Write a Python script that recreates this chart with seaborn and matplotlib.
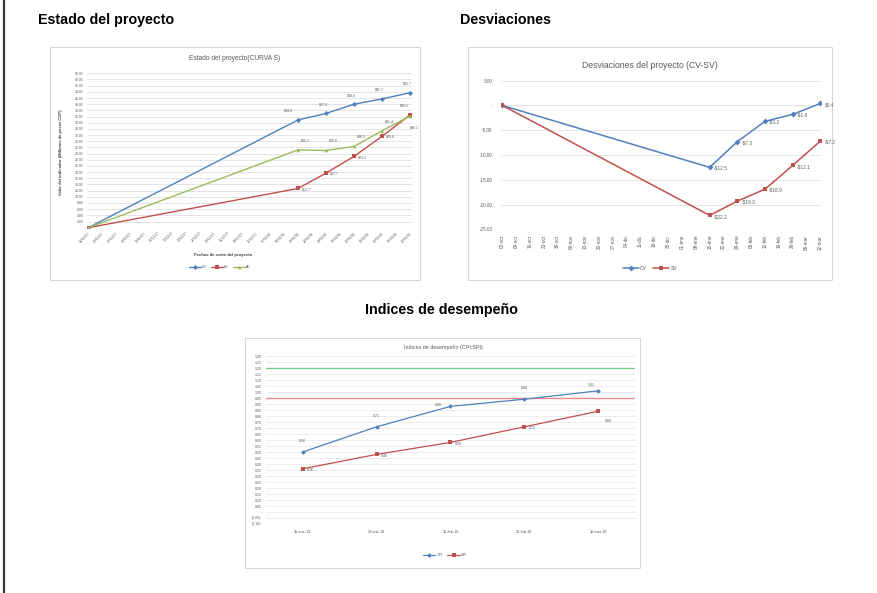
import matplotlib
matplotlib.use("Agg")
import matplotlib.pyplot as plt
from matplotlib.patches import Rectangle
from matplotlib.lines import Line2D
from matplotlib.ticker import FuncFormatter
import numpy as np
import seaborn as sns

# ---------------------------------------------------------------- data
# weekly cut-off dates on the time axis (deviation chart / S-curve chart)
fechas = ["02-oct", "09-oct", "16-oct", "23-oct", "30-oct", "06-nov", "13-nov",
          "20-nov", "27-nov", "04-dic", "11-dic", "18-dic", "25-dic", "01-ene",
          "08-ene", "15-ene", "22-ene", "29-ene", "05-feb", "12-feb", "19-feb",
          "26-feb", "05-mar", "12-mar"]
fechas_curva = ["02/10/17", "09/10/17", "16/10/17", "23/10/17", "30/10/17",
                "06/11/17", "13/11/17", "20/11/17", "27/11/17", "04/12/17",
                "11/12/17", "18/12/17", "25/12/17", "01/01/18", "08/01/18",
                "15/01/18", "22/01/18", "29/01/18", "05/02/18", "12/02/18",
                "19/02/18", "26/02/18", "05/03/18", "12/03/18"]

# dates on which the project was measured
cortes = ["02-oct", "15-ene", "29-ene", "12-feb", "26-feb", "12-mar"]

# S-curve (millions of COP)
PV = [0.0, 34.9, 37.0, 40.0, 41.7, 43.7]
EV = [0.0, 12.7, 17.7, 23.1, 29.6, 36.5]
AC = [0.0, 25.2, 25.0, 26.3, 31.4, 36.1]

# deviations (millions of COP)
CV = [0.0, -12.5, -7.3, -3.2, -1.8, 0.4]
SV = [0.0, -22.2, -19.3, -16.9, -12.1, -7.2]

# performance indices
fechas_indices = ["15-ene-18", "29-ene-18", "12-feb-18", "26-feb-18", "12-mar-18"]
CPI = [0.50, 0.71, 0.88, 0.94, 1.01]
SPI = [0.36, 0.48, 0.58, 0.71, 0.84]
limite_superior = 1.20
limite_inferior = 0.95

# ---------------------------------------------------------------- style
sns.set_theme(style="white")
plt.rcParams["font.family"] = ["Liberation Sans", "DejaVu Sans"]

AZUL = "#4F81BD"
ROJO = "#C0504D"
VERDE = "#9BBB59"
GRIS_TXT = "#595959"
GRIS_GRID = "#d9d9d9"

W, H = 878, 593
fig = plt.figure(figsize=(W / 100, H / 100), dpi=100)
fig.patch.set_facecolor("white")


def caja(l, t, r, b):
    return [l / W, 1 - b / H, (r - l) / W, (b - t) / H]


def fx(x):
    return x / W


def fy(y):
    return 1 - y / H


def marco(l, t, r, b):
    fig.add_artist(Rectangle((fx(l), fy(b)), (r - l) / W, (b - t) / H,
                             transform=fig.transFigure, facecolor="white",
                             edgecolor="#d4d4d4", lw=0.7, zorder=0))


def estilo(ax, fs):
    ax.set_facecolor("none")
    for s in ax.spines.values():
        s.set_visible(False)
    ax.grid(axis="y", color=GRIS_GRID, lw=0.5)
    ax.grid(axis="x", visible=False)
    ax.tick_params(length=0, labelsize=fs, labelcolor=GRIS_TXT)
    ax.set_xlabel("")
    ax.set_ylabel("")


# page border and section headings
fig.add_artist(Line2D([fx(4), fx(4)], [0, 1], color="#3a3a3a", lw=1.6,
                      transform=fig.transFigure))
fig.text(fx(38), fy(20), "Estado del proyecto", fontsize=10.3, fontweight="bold",
         ha="left", va="center", color="black")
fig.text(fx(460), fy(20), "Desviaciones", fontsize=10.3, fontweight="bold",
         ha="left", va="center", color="black")
fig.text(fx(441), fy(310), "Indices de desempeño", fontsize=10.3,
         fontweight="bold", ha="center", va="center", color="black")

x_cortes = [fechas.index(f) for f in cortes]

# ---------------------------------------------------------------- S-curve
marco(50, 47, 420, 280)
ax1 = fig.add_axes(caja(86.7, 73.3, 411.7, 227.7))
for serie, nombre, color, mk in [(PV, "PV", AZUL, "D"), (EV, "EV", ROJO, "s"),
                                 (AC, "AC", VERDE, "^")]:
    sns.lineplot(x=x_cortes, y=serie, ax=ax1, color=color, lw=1.0,
                 marker=mk, markersize=2.6, markeredgewidth=0, label=nombre)
estilo(ax1, 2.4)
ax1.set_xlim(-0.11, 23.12)
ax1.set_ylim(0, 50)
ax1.set_yticks(np.arange(0, 51, 2))
ax1.yaxis.set_major_formatter(FuncFormatter(lambda v, p: "-" if abs(v) < 1e-9 else f"{v:.2f}"))
ax1.tick_params(axis="y", pad=2.5)
ax1.set_xticks(range(len(fechas_curva)))
ax1.set_xticklabels(fechas_curva, rotation=45, ha="right", rotation_mode="anchor")
ax1.tick_params(axis="x", pad=2.5)

for i, (xi, v) in enumerate(zip(x_cortes, PV)):
    if i == 0:
        continue
    ax1.annotate(f"${v:.1f}", (xi, v), xytext=(-2 if i > 1 else -7, 6.5),
                 textcoords="offset points", ha="center", va="center",
                 fontsize=2.6, color=GRIS_TXT)
for i, (xi, v) in enumerate(zip(x_cortes, AC)):
    if i == 0:
        continue
    off = (3, -8) if i == len(AC) - 1 else (5, 7)
    ax1.annotate(f"${v:.1f}", (xi, v), xytext=off, textcoords="offset points",
                 ha="center", va="center", fontsize=2.6, color=GRIS_TXT)
for i, (xi, v) in enumerate(zip(x_cortes, EV)):
    if i == 0:
        continue
    if i == len(EV) - 1:
        ax1.annotate(f"${v:.1f}", (xi, v), xytext=(-4, 7), textcoords="offset points",
                     ha="center", va="center", fontsize=2.6, color=GRIS_TXT)
    else:
        ax1.annotate(f"${v:.1f}", (xi, v), xytext=(3, -0.5), textcoords="offset points",
                     ha="left", va="center", fontsize=2.6, color=GRIS_TXT)

fig.text(fx(235), fy(58), "Estado del proyecto(CURVA S)", fontsize=4.8,
         ha="center", va="center", color=GRIS_TXT)
fig.text(fx(61), fy(152), "Valor del indicador (Millones de pesos COP)",
         fontsize=3.0, fontweight="bold", rotation=90, ha="center", va="center",
         color="#404040")
fig.text(fx(223), fy(255), "Fechas de corte del proyecto", fontsize=3.1,
         fontweight="bold", ha="center", va="center", color="#404040")
ax1.legend(loc="center", bbox_to_anchor=(fx(220), fy(267)),
           bbox_transform=fig.transFigure, ncol=3, frameon=False, fontsize=2.6,
           handlelength=3.2, columnspacing=1.2, handletextpad=0.4,
           labelcolor=GRIS_TXT)

# ---------------------------------------------------------------- deviations
marco(468, 47, 832, 280)
ax2 = fig.add_axes(caja(501, 80.7, 821, 229.3))
for serie, nombre, color, mk in [(CV, "CV", AZUL, "D"), (SV, "SV", ROJO, "s")]:
    sns.lineplot(x=x_cortes, y=serie, ax=ax2, color=color, lw=1.1,
                 marker=mk, markersize=3.0, markeredgewidth=0, label=nombre)
estilo(ax2, 3.3)
ax2.set_xlim(-0.1, 23.05)
ax2.set_ylim(-25, 5)
ax2.set_yticks(np.arange(-25, 6, 5))
ax2.yaxis.set_major_formatter(FuncFormatter(lambda v, p: "-" if abs(v) < 1e-9 else f"{v:.2f}"))
ax2.tick_params(axis="y", pad=6)
ax2.set_xticks(range(len(fechas)))
ax2.set_xticklabels(fechas, rotation=90, ha="center", va="top")
ax2.tick_params(axis="x", pad=4, labelsize=3.3)


def moneda(v):
    return f"-${abs(v):.1f}" if v < 0 else f"${v:.1f}"


for serie in (CV, SV):
    for i, (xi, v) in enumerate(zip(x_cortes, serie)):
        if i == 0:
            continue
        ax2.annotate(moneda(v), (xi, v), xytext=(3, -0.8), textcoords="offset points",
                     ha="left", va="center", fontsize=3.4, color=GRIS_TXT,
                     annotation_clip=False)

fig.text(fx(650), fy(65.7), "Desviaciones del proyecto (CV-SV)", fontsize=6.2,
         ha="center", va="center", color=GRIS_TXT)
ax2.legend(loc="center", bbox_to_anchor=(fx(650), fy(268)),
           bbox_transform=fig.transFigure, ncol=2, frameon=False, fontsize=3.6,
           handlelength=3.2, columnspacing=1.2, handletextpad=0.3,
           labelcolor=GRIS_TXT)

# ---------------------------------------------------------------- indices
marco(245, 338, 640, 568)
ax3 = fig.add_axes(caja(265.7, 356, 635.3, 524))
ax3.axhline(limite_superior, color="#7CCB94", lw=1.0, zorder=1)
ax3.axhline(limite_inferior, color="#EC8A8A", lw=1.0, zorder=1)
x_ind = list(range(len(fechas_indices)))
for serie, nombre, color, mk in [(CPI, "CPI", AZUL, "D"), (SPI, "SPI", ROJO, "s")]:
    sns.lineplot(x=x_ind, y=serie, ax=ax3, color=color, lw=0.9,
                 marker=mk, markersize=2.4, markeredgewidth=0, label=nombre)
estilo(ax3, 2.5)
ax3.grid(axis="y", color="#e6e6e6", lw=0.5)
ax3.set_xlim(-0.5, 4.5)
ax3.set_ylim(-0.10, 1.30)
ax3.set_yticks(np.round(np.arange(-0.10, 1.301, 0.05), 2))


def indice_fmt(v, p):
    if abs(v) < 1e-9:
        return "-"
    if v < 0:
        return f"({abs(v):.2f})"
    return f"{v:.2f}"


ax3.yaxis.set_major_formatter(FuncFormatter(indice_fmt))
ax3.tick_params(axis="y", pad=3)
ax3.set_xticks(x_ind)
ax3.set_xticklabels(fechas_indices)
ax3.tick_params(axis="x", pad=4, labelsize=2.7)

cpi_off = [(0, 8), (0, 7.5), (-9, 1), (0, 8), (-5, 4)]
for xi, v, off in zip(x_ind, CPI, cpi_off):
    ax3.annotate(f"{v:.2f}", (xi, v), xytext=off, textcoords="offset points",
                 ha="center", va="center", fontsize=2.6, color=GRIS_TXT)
for i, (xi, v) in enumerate(zip(x_ind, SPI)):
    off = (5, -7) if i == len(SPI) - 1 else (3, -0.8)
    ax3.annotate(f"{v:.2f}", (xi, v), xytext=off, textcoords="offset points",
                 ha="left", va="center", fontsize=2.6, color=GRIS_TXT)

fig.text(fx(443), fy(348), "Indices de desempeño (CPI;SPI)", fontsize=3.9,
         ha="center", va="center", color=GRIS_TXT)
ax3.legend(loc="center", bbox_to_anchor=(fx(445), fy(555)),
           bbox_transform=fig.transFigure, ncol=2, frameon=False, fontsize=2.8,
           handlelength=3.2, columnspacing=1.2, handletextpad=0.3,
           labelcolor=GRIS_TXT)

fig.savefig("out.png", dpi=100, facecolor="white")
